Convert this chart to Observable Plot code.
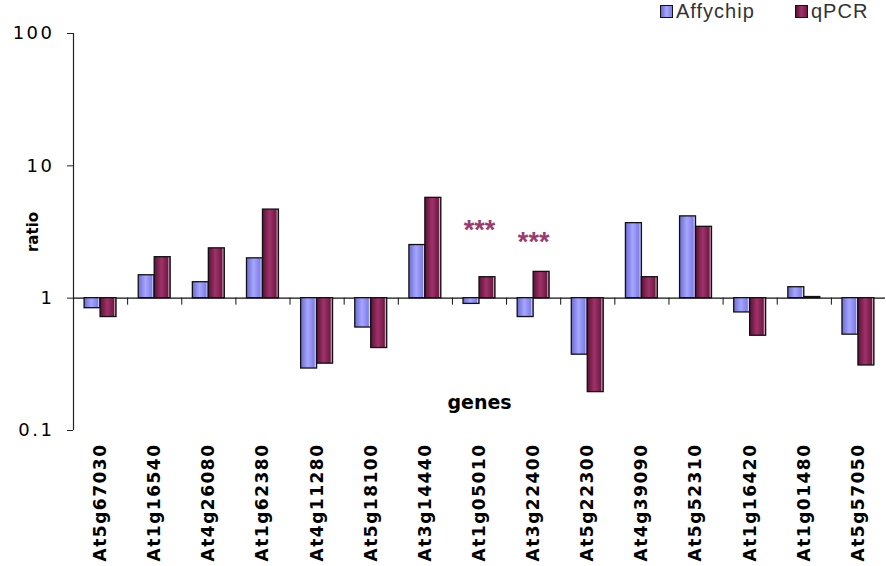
<!DOCTYPE html>
<html><head><meta charset="utf-8">
<script src="https://cdn.jsdelivr.net/npm/d3@7"></script>
<script src="https://cdn.jsdelivr.net/npm/@observablehq/plot@0.6"></script>
<style>
body{margin:0;background:#fff;font-family:Arial,"Liberation Sans",sans-serif;}
#legend{position:relative;width:886px;height:23px;}
.item{position:absolute;top:0;height:23px;line-height:23px;display:flex;align-items:center;font-size:20px;color:#333;letter-spacing:1px;}
.sw{width:11px;height:11px;border:1px solid #111;margin-right:3px;}
</style></head><body>
<div id="legend"></div>
<div id="chart"></div>
<script>
const genes = ["At5g67030","At1g16540","At4g26080","At1g62380","At4g11280","At5g18100","At3g14440","At1g05010","At3g22400","At5g22300","At4g39090","At5g52310","At1g16420","At1g01480","At5g57050"];
const affychip = [0.84, 1.49, 1.32, 2.0, 0.294, 0.60, 2.52, 0.905, 0.72, 0.374, 3.69, 4.15, 0.78, 1.21, 0.53];
const qpcr = [0.72, 2.04, 2.38, 4.67, 0.32, 0.42, 5.73, 1.44, 1.58, 0.195, 1.44, 3.46, 0.52, 1.02, 0.31];
const seriesNames = ["Affychip", "qPCR"];
const yTicks = [100, 10, 1, 0.1];
const starNotes = [{gene: "At1g05010", label: "***", level: 3.34}, {gene: "At3g22400", label: "***", level: 2.74}];

const rows = genes.flatMap((g, i) => [
  {gene: g, i, series: seriesNames[0], value: affychip[i]},
  {gene: g, i, series: seriesNames[1], value: qpcr[i]}
]);
const gradId = {Affychip: "gAffy", qPCR: "gQpcr"};

const plot = Plot.plot({
  width: 886, height: 543,
  marginLeft: 73, marginRight: 1, marginTop: 10, marginBottom: 136,
  style: {fontFamily: "'DejaVu Sans', Arial, sans-serif", background: "#fff", overflow: "visible"},
  x: {domain: [0, genes.length], axis: null},
  y: {type: "log", domain: [0.1, 100], axis: null},
  marks: [
    Plot.ruleX([0], {stroke: "#222", strokeWidth: 1.2}),
    Plot.axisY({ticks: yTicks, tickFormat: d => String(d), tickSize: 6, tickPadding: 13, fontSize: 18, label: null, stroke: "#222", color: "#000"}),
    Plot.ruleY([1], {stroke: "#111", strokeWidth: 1.2}),
    Plot.ruleX(d3.range(1, genes.length), {y1: 1, y2: 1, insetBottom: -7, stroke: "#111"}),
    Plot.axisX({ticks: genes.map((g, i) => i + 0.5), tickFormat: d => genes[Math.floor(d)], tickRotate: -90, tickSize: 0, tickPadding: 13, fontSize: 17, fontWeight: "bold", label: null, anchor: "bottom", color: "#000"}),
    Plot.rect(rows, {
      x1: d => d.i + (d.series === "Affychip" ? 0.205 : 0.5),
      x2: d => d.i + (d.series === "Affychip" ? 0.5 : 0.795),
      y1: 1, y2: "value",
      fill: d => `url(#${gradId[d.series]})`,
      stroke: "#111", strokeWidth: 1.3
    }),
    Plot.text(starNotes, {x: d => genes.indexOf(d.gene) + 0.5, y: "level", text: "label", fill: "#9a3a6e", fontSize: 27, fontWeight: "bold", fontFamily: "Arial, sans-serif", dy: 2}),
    Plot.text(["genes"], {frameAnchor: "bottom", dy: -28, lineAnchor: "middle", fontSize: 19, fontWeight: "bold", fill: "#000"}),
    Plot.text(["ratio"], {frameAnchor: "left", textAnchor: "middle", dx: -40, rotate: -90, fontSize: 15, fontWeight: "bold", fill: "#000"})
  ]
});

const svg = d3.select(plot);
const defs = svg.insert("defs", ":first-child");
function grad(id, stops) {
  const g = defs.append("linearGradient").attr("id", id).attr("x1", "0").attr("x2", "1").attr("y1", "0").attr("y2", "0");
  stops.forEach(([o, c]) => g.append("stop").attr("offset", o).attr("stop-color", c));
}
grad("gAffy", [[0, "#6a6ad0"], [0.45, "#a6a6ff"], [0.85, "#7e7ee6"], [0.92, "#d8d8ff"], [1, "#6a6ad0"]]);
grad("gQpcr", [[0, "#5a1236"], [0.45, "#a0326a"], [0.85, "#6e1a44"], [0.92, "#d9b0c4"], [1, "#5a1236"]]);
svg.selectAll('[aria-label="x-axis tick label"] text').style("letter-spacing", "1.5px");
svg.selectAll('[aria-label="y-axis tick label"] text').style("letter-spacing", "2.5px");
document.getElementById("chart").appendChild(plot);

const legend = document.getElementById("legend");
const legendPos = {Affychip: 660, qPCR: 795};
const legendBg = {Affychip: "linear-gradient(90deg,#6a6ad0,#a6a6ff,#7e7ee6)", qPCR: "linear-gradient(90deg,#5a1236,#a0326a,#6e1a44)"};
seriesNames.forEach(s => {
  const it = document.createElement("div");
  it.className = "item";
  it.style.left = legendPos[s] + "px";
  const sw = document.createElement("span");
  sw.className = "sw";
  sw.style.background = legendBg[s];
  const t = document.createElement("span");
  t.textContent = s;
  it.appendChild(sw); it.appendChild(t);
  legend.appendChild(it);
});
</script>
</body></html>
